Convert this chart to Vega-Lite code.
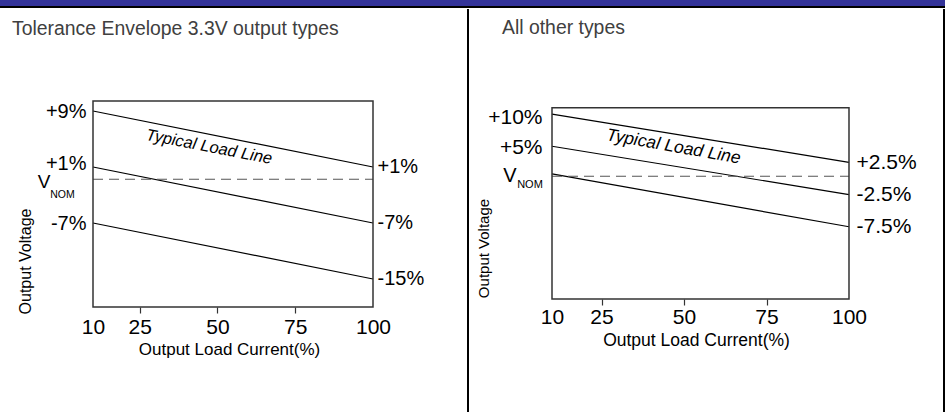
{
  "$schema": "https://vega.github.io/schema/vega-lite/v6.json",
  "padding": 0,
  "background": "white",
  "config": {
    "view": {"stroke": null},
    "concat": {"spacing": 0},
    "axis": {"grid": false, "domain": false, "labelColor": "black", "titleColor": "black", "titleFontWeight": "normal", "labelOverlap": false, "labelFlush": false, "labelBound": false}
  },
  "datasets": {
    "left_lines": [
      {"limit": "max", "load": 10, "pct": 9},
      {"limit": "max", "load": 100, "pct": 1},
      {"limit": "typical", "load": 10, "pct": 1},
      {"limit": "typical", "load": 100, "pct": -7},
      {"limit": "min", "load": 10, "pct": -7},
      {"limit": "min", "load": 100, "pct": -15}
    ],
    "left_nominal": [
      {"load": 10, "pct": -0.76},
      {"load": 100, "pct": -0.76}
    ],
    "right_lines": [
      {"limit": "max", "load": 10, "pct": 10},
      {"limit": "max", "load": 100, "pct": 2.5},
      {"limit": "typical", "load": 10, "pct": 5},
      {"limit": "typical", "load": 100, "pct": -2.5},
      {"limit": "min", "load": 10, "pct": 0.7},
      {"limit": "min", "load": 100, "pct": -7.5}
    ],
    "right_nominal": [
      {"load": 10, "pct": 0.35},
      {"load": 100, "pct": 0.35}
    ],
    "one": [{"item": "annotation"}]
  },
  "spacing": 0,
  "vconcat": [
    {
      "width": 945,
      "height": 6,
      "view": {"fill": "#333399", "stroke": null},
      "data": {"values": [{"band": "header"}]},
      "mark": {"type": "rect", "color": "#333399"},
      "encoding": {}
    },
    {
      "width": 945,
      "height": 2,
      "view": {"fill": "#000000", "stroke": null},
      "data": {"values": [{"band": "rule"}]},
      "mark": {"type": "rect", "color": "#000000"},
      "encoding": {}
    },
    {
      "spacing": 0,
      "hconcat": [
        {
          "width": 467,
          "height": 298,
          "title": {"text": "Tolerance Envelope 3.3V output types", "anchor": "start", "frame": "group", "orient": "top", "offset": -45, "dx": 12, "baseline": "alphabetic", "font": "Liberation Sans", "fontSize": 19.4, "fontWeight": "normal", "color": "#404040"},
          "resolve": {"axis": {"x": "independent", "y": "independent"}},
          "layer": [
            {
              "data": {"name": "left_lines"},
              "mark": {"type": "line", "color": "black", "strokeWidth": 1.2},
              "encoding": {
                "x": {"field": "load", "type": "quantitative",
                  "scale": {"domain": [-19.893, 130.214], "nice": false, "zero": false},
                  "axis": {"orient": "bottom", "values": [10, 25, 50, 75, 100], "tickSize": 6, "tickWidth": 1.2, "tickColor": "#333333",
                    "tickOpacity": {"condition": {"test": "datum.value == 10 || datum.value == 100", "value": 0}, "value": 1},
                    "labelPadding": 3, "labelFont": "Liberation Sans", "labelFontSize": 21,
                    "title": "Output Load Current(%)", "titleFont": "Liberation Sans", "titleFontSize": 17, "titlePadding": 4, "titleX": 229}},
                "y": {"field": "pct", "type": "quantitative",
                  "scale": {"domain": [-19, 23.571], "nice": false, "zero": false},
                  "axis": {"orient": "left", "offset": -93, "values": [9, 1, -7], "ticks": false, "labelPadding": 7,
                    "labelOffset": {"condition": {"test": "datum.value == 1", "value": -3}, "value": 1},
                    "labelExpr": "(datum.value > 0 ? '+' : '') + datum.value + '%'",
                    "labelFont": "Liberation Sans", "labelFontSize": 20,
                    "title": "Output Voltage", "titleFont": "Liberation Sans", "titleFontSize": 16, "titleX": -60, "titleY": 252, "titleAngle": 270, "titleBaseline": "bottom"}},
                "detail": {"field": "limit"}
              }
            },
            {
              "data": {"name": "left_nominal"},
              "mark": {"type": "line", "color": "#555555", "strokeWidth": 1.1, "strokeDash": [10, 6]},
              "encoding": {
                "x": {"field": "load", "type": "quantitative", "axis": null},
                "y": {"field": "pct", "type": "quantitative", "axis": null}
              }
            },
            {
              "data": {"name": "one"},
              "mark": {"type": "rect", "filled": false, "color": "#333333", "strokeWidth": 1.5},
              "encoding": {
                "x": {"datum": 10, "type": "quantitative", "axis": null},
                "x2": {"datum": 100},
                "y": {"datum": -19, "type": "quantitative",
                  "axis": {"orient": "right", "offset": -94, "values": [1, -7, -15], "ticks": false, "labelPadding": 4,
                    "labelExpr": "(datum.value > 0 ? '+' : '') + datum.value + '%'",
                    "labelFont": "Liberation Sans", "labelFontSize": 20, "title": null}},
                "y2": {"datum": 10.43}
              }
            },
            {
              "data": {"name": "one"},
              "mark": {"type": "text", "text": "V", "dx": -49, "dy": 3, "align": "center", "baseline": "middle", "font": "Liberation Sans", "fontSize": 19, "color": "black"},
              "encoding": {"x": {"datum": 10, "type": "quantitative", "axis": null}, "y": {"datum": -0.76, "type": "quantitative", "axis": null}}
            },
            {
              "data": {"name": "one"},
              "mark": {"type": "text", "text": "NOM", "dx": -30.5, "dy": 16, "align": "center", "baseline": "middle", "font": "Liberation Sans", "fontSize": 10.5, "color": "black"},
              "encoding": {"x": {"datum": 10, "type": "quantitative", "axis": null}, "y": {"datum": -0.76, "type": "quantitative", "axis": null}}
            },
            {
              "data": {"name": "one"},
              "mark": {"type": "text", "text": "Typical Load Line", "angle": 11, "align": "center", "baseline": "middle", "font": "Liberation Sans", "fontStyle": "italic", "fontSize": 16.5, "color": "black"},
              "encoding": {"x": {"datum": 47.3, "type": "quantitative", "axis": null}, "y": {"datum": 3.86, "type": "quantitative", "axis": null}}
            }
          ]
        },
        {
          "width": 476,
          "height": 290,
          "title": {"text": "All other types", "anchor": "start", "frame": "group", "orient": "top", "offset": -45, "dx": 34, "baseline": "alphabetic", "font": "Liberation Sans", "fontSize": 19.4, "fontWeight": "normal", "color": "#404040"},
          "resolve": {"axis": {"x": "independent", "y": "independent"}},
          "layer": [
            {
              "data": {"name": "right_lines"},
              "mark": {"type": "line", "color": "black", "strokeWidth": 1.2},
              "encoding": {
                "x": {"field": "load", "type": "quantitative",
                  "scale": {"domain": [-15.455, 128.788], "nice": false, "zero": false},
                  "axis": {"orient": "bottom", "values": [10, 25, 50, 75, 100], "tickSize": 6, "tickWidth": 1.2, "tickColor": "#333333",
                    "tickOpacity": {"condition": {"test": "datum.value == 10 || datum.value == 100", "value": 0}, "value": 1},
                    "labelPadding": 1, "labelFont": "Liberation Sans", "labelFontSize": 21,
                    "title": "Output Load Current(%)", "titleFont": "Liberation Sans", "titleFontSize": 17.5, "titlePadding": 4, "titleX": 228}},
                "y": {"field": "pct", "type": "quantitative",
                  "scale": {"domain": [-18.71, 26.306], "nice": false, "zero": false},
                  "axis": {"orient": "left", "offset": -84, "values": [10, 5], "ticks": false, "labelPadding": 10,
                    "labelOffset": {"condition": {"test": "datum.value == 10", "value": 3}, "value": 1},
                    "labelExpr": "(datum.value > 0 ? '+' : '') + datum.value + '%'",
                    "labelFont": "Liberation Sans", "labelFontSize": 21,
                    "title": "Output Voltage", "titleFont": "Liberation Sans", "titleFontSize": 15, "titleX": -61, "titleY": 239, "titleAngle": 270, "titleBaseline": "bottom"}},
                "detail": {"field": "limit"}
              }
            },
            {
              "data": {"name": "right_nominal"},
              "mark": {"type": "line", "color": "#555555", "strokeWidth": 1.1, "strokeDash": [10, 6]},
              "encoding": {
                "x": {"field": "load", "type": "quantitative", "axis": null},
                "y": {"field": "pct", "type": "quantitative", "axis": null}
              }
            },
            {
              "data": {"name": "one"},
              "mark": {"type": "rect", "filled": false, "color": "#333333", "strokeWidth": 1.5},
              "encoding": {
                "x": {"datum": 10, "type": "quantitative", "axis": null},
                "x2": {"datum": 100},
                "y": {"datum": -18.71, "type": "quantitative",
                  "axis": {"orient": "right", "offset": -95, "values": [2.5, -2.5, -7.5], "ticks": false, "labelPadding": 7,
                    "labelExpr": "(datum.value > 0 ? '+' : '') + datum.value + '%'",
                    "labelFont": "Liberation Sans", "labelFontSize": 21, "title": null}},
                "y2": {"datum": 10.98}
              }
            },
            {
              "data": {"name": "one"},
              "mark": {"type": "rule", "color": "black", "strokeWidth": 2},
              "encoding": {"x": {"datum": -15.455, "type": "quantitative", "axis": null}, "y": {"datum": 26.306, "type": "quantitative", "axis": null}, "y2": {"datum": -36.408}}
            },
            {
              "data": {"name": "one"},
              "mark": {"type": "rule", "color": "black", "strokeWidth": 2},
              "encoding": {"x": {"datum": 128.788, "type": "quantitative", "axis": null}, "y": {"datum": 26.306, "type": "quantitative", "axis": null}, "y2": {"datum": -36.408}}
            },
            {
              "data": {"name": "one"},
              "mark": {"type": "text", "text": "V", "dx": -42, "dy": 0, "align": "center", "baseline": "middle", "font": "Liberation Sans", "fontSize": 20, "color": "black"},
              "encoding": {"x": {"datum": 10, "type": "quantitative", "axis": null}, "y": {"datum": 0.35, "type": "quantitative", "axis": null}}
            },
            {
              "data": {"name": "one"},
              "mark": {"type": "text", "text": "NOM", "dx": -22, "dy": 9, "align": "center", "baseline": "middle", "font": "Liberation Sans", "fontSize": 11, "color": "black"},
              "encoding": {"x": {"datum": 10, "type": "quantitative", "axis": null}, "y": {"datum": 0.35, "type": "quantitative", "axis": null}}
            },
            {
              "data": {"name": "one"},
              "mark": {"type": "text", "text": "Typical Load Line", "angle": 10, "align": "center", "baseline": "middle", "font": "Liberation Sans", "fontStyle": "italic", "fontSize": 17.5, "color": "black"},
              "encoding": {"x": {"datum": 46.8, "type": "quantitative", "axis": null}, "y": {"datum": 4.9, "type": "quantitative", "axis": null}}
            }
          ]
        }
      ]
    }
  ]
}
